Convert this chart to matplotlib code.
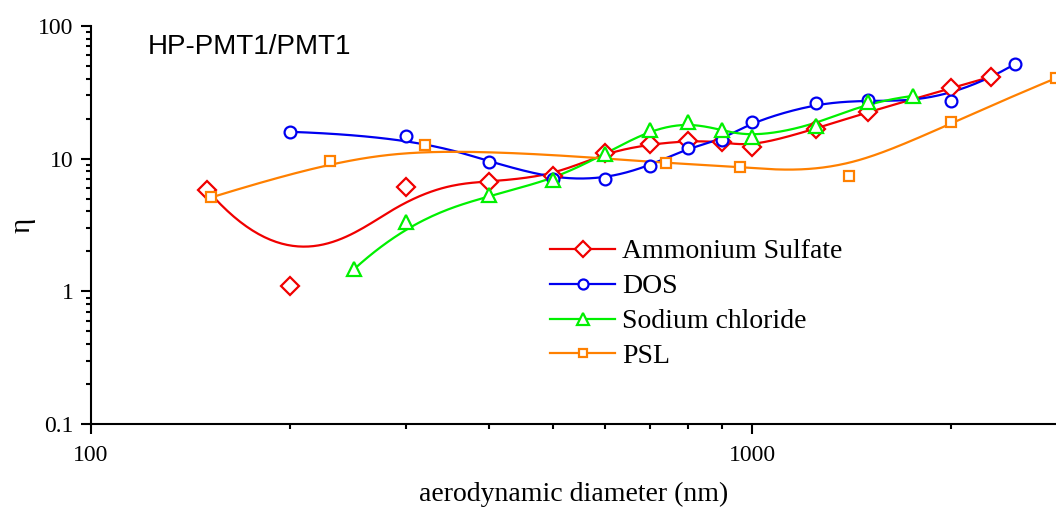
import numpy as np
import matplotlib
matplotlib.use("Agg")
import matplotlib.pyplot as plt
from matplotlib.lines import Line2D
from matplotlib.ticker import LogLocator, NullFormatter, FixedLocator, FixedFormatter

plt.rcParams['font.family'] = ['Liberation Serif', 'DejaVu Serif']

# data (diameter in nm, eta)
as_x = [150, 200, 300, 400, 500, 600, 700, 800, 900, 1000, 1250, 1500, 2000, 2300]
as_y = [5.8, 1.1, 6.1, 6.7, 7.4, 11.1, 12.8, 13.6, 13.4, 12.2, 16.8, 22.5, 33.8, 41.3]

dos_x = [200, 300, 400, 500, 600, 700, 800, 900, 1000, 1250, 1500, 2000, 2500]
dos_y = [15.9, 14.8, 9.5, 7.0, 7.0, 8.8, 12.0, 13.8, 18.9, 26.1, 27.6, 27.1, 51.5]

nacl_x = [250, 300, 400, 500, 600, 700, 800, 900, 1000, 1250, 1500, 1750]
nacl_y = [1.47, 3.35, 5.3, 6.9, 10.9, 16.4, 18.7, 16.4, 14.5, 17.6, 26.8, 29.6]

psl_x = [152, 230, 320, 740, 960, 1400, 2000, 2880]
psl_y = [5.1, 9.6, 12.7, 9.2, 8.7, 7.4, 18.9, 40.2]

labels = ["Ammonium Sulfate", "DOS", "Sodium chloride", "PSL"]
colors = ["#f00000", "#0000f0", "#00f000", "#ff8000"]
markers = ["D", "o", "^", "s"]
msizes = [9.5, 8.5, 10, 7.5]


def bspline(xs, ys, k=3, n=400):
    # clamped uniform B-spline, data points used as control points (log-log space)
    P = np.column_stack([np.log10(xs), np.log10(ys)])
    m = len(P)
    k = min(k, m - 1)
    knots = np.concatenate([np.zeros(k), np.linspace(0, 1, m - k + 1), np.ones(k)])
    t = np.linspace(0, 1, n)
    t[-1] -= 1e-9
    # degree 0 basis
    N = np.zeros((n, len(knots) - 1))
    for i in range(len(knots) - 1):
        N[:, i] = (t >= knots[i]) & (t < knots[i + 1])
    # Cox - de Boor recursion
    for d in range(1, k + 1):
        Nn = np.zeros((n, len(knots) - 1 - d))
        for i in range(len(knots) - 1 - d):
            a = knots[i + d] - knots[i]
            b = knots[i + d + 1] - knots[i + 1]
            left = (t - knots[i]) / a * N[:, i] if a > 0 else 0
            right = (knots[i + d + 1] - t) / b * N[:, i + 1] if b > 0 else 0
            Nn[:, i] = left + right
        N = Nn
    C = N @ P
    return 10 ** C[:, 0], 10 ** C[:, 1]


fig = plt.figure(figsize=(10.56, 5.08), dpi=100)
ax = fig.add_axes([91 / 1056, 1 - 424.3 / 508, 1 - 91 / 1056, (424.3 - 25.7) / 508])

series = [(as_x, as_y), (dos_x, dos_y), (nacl_x, nacl_y), (psl_x, psl_y)]
handles = []
for (xs, ys), c, mk, ms, lab in zip(series, colors, markers, msizes, labels):
    cx, cy = bspline(xs, ys)
    ax.plot(cx, cy, color=c, lw=1.6, zorder=2)
    ax.plot(xs, ys, ls='none', marker=mk, ms=ms, mfc='white', mec=c, mew=1.6, zorder=3)
    handles.append(Line2D([], [], color=c, lw=1.6, marker=mk, ms=ms * 0.85,
                          mfc='white', mec=c, mew=1.6, label=lab))

ax.set_xscale('log')
ax.set_yscale('log')
ax.set_xlim(100, 10 ** (2 + 965 / 661))
ax.set_ylim(0.1, 100)

ax.xaxis.set_major_locator(FixedLocator([100, 1000]))
ax.xaxis.set_major_formatter(FixedFormatter(["100", "1000"]))
ax.xaxis.set_minor_locator(LogLocator(base=10, subs=np.arange(2, 10)))
ax.xaxis.set_minor_formatter(NullFormatter())
ax.yaxis.set_major_locator(FixedLocator([0.1, 1, 10, 100]))
ax.yaxis.set_major_formatter(FixedFormatter(["0.1", "1", "10", "100"]))
ax.yaxis.set_minor_locator(LogLocator(base=10, subs=np.arange(2, 10)))
ax.yaxis.set_minor_formatter(NullFormatter())

for s in ['top', 'right']:
    ax.spines[s].set_visible(False)
for s in ['left', 'bottom']:
    ax.spines[s].set_linewidth(1.5)

ax.tick_params(which='major', length=7.2, width=1.5, labelsize=17, pad=5.5, direction='out')
ax.tick_params(axis='x', which='major', pad=8)
ax.tick_params(which='minor', length=3.6, width=1.5, direction='out')

ax.set_xlabel("aerodynamic diameter (nm)", fontsize=20, labelpad=11)
ax.set_ylabel("η", fontsize=21, labelpad=2)

fig.text(148 / 1056, 1 - 46.5 / 508, "HP-PMT1/PMT1", fontsize=20, va='center',
         family=['Liberation Sans', 'DejaVu Sans'])

ax.legend(handles=handles, loc='upper left', bbox_to_anchor=(550 / 1056, 1 - 239 / 508),
          bbox_transform=fig.transFigure, frameon=False, fontsize=20,
          handlelength=2.34, handletextpad=0.25, labelspacing=0.34,
          borderpad=0, borderaxespad=0)

fig.savefig("out.png", dpi=100)
